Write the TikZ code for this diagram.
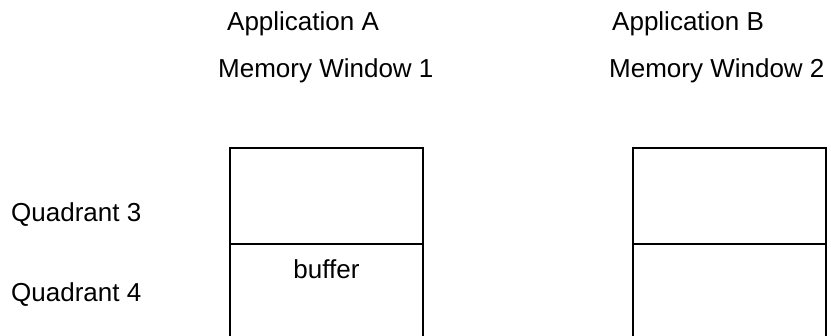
\documentclass[tikz,border=0pt]{standalone}
\usepackage{fontspec}
\setmainfont{Liberation Sans}
\usetikzlibrary{positioning}

\begin{document}
\begin{tikzpicture}[
    x=1pt, y=-1pt,
    quad/.style={draw, line width=1.5pt, minimum width=193pt, minimum height=96pt, inner sep=0pt, outer sep=0pt},
    lbl/.style={font=\fontsize{26}{30}\selectfont, inner sep=0pt, anchor=base west}
  ]
    \useasboundingbox (0,0) rectangle (831,336);

    % application titles
    \node[lbl] (appA) at (227,31) {Application A};
    \node[lbl] (winA) at (218,78) {Memory Window 1};
    \node[lbl] (appB) at (612,31) {Application B};
    \node[lbl] (winB) at (609,78) {Memory Window 2};

    % quadrant names
    \node[lbl] (q3) at (11,222) {Quadrant 3};
    \node[lbl] (q4) at (11,302) {Quadrant 4};

    % memory windows
    \node[quad] (a3) at (326.5,196) {};
    \node[quad, anchor=north] (a4) at (a3.south) {};
    \node[quad] (b3) at (729.5,196) {};
    \node[quad, anchor=north] (b4) at (b3.south) {};

    \node[lbl, anchor=base] (buf) at (a4.north |- 0,279) {buffer};
  \end{tikzpicture}
\end{document}
